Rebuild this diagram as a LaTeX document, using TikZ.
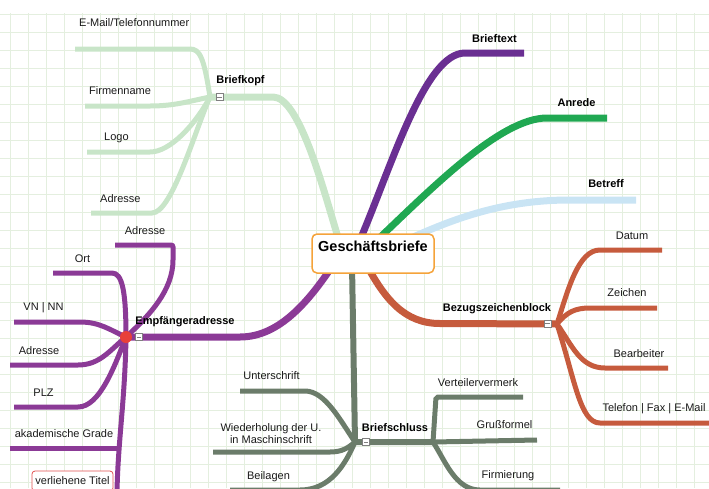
\documentclass[tikz,border=0pt]{standalone}
\usepackage{fontspec}
\setmainfont{Liberation Sans}
\usetikzlibrary{backgrounds}
\definecolor{gridc}{HTML}{E4EFDF}
\definecolor{kopfc}{HTML}{C8E5C8}
\definecolor{textc}{HTML}{6A2F92}
\definecolor{anredc}{HTML}{20A852}
\definecolor{betrc}{HTML}{C9E4F4}
\definecolor{bezc}{HTML}{C65B3D}
\definecolor{empfc}{HTML}{8B3A96}
\definecolor{schlc}{HTML}{6B7C6A}
\definecolor{rootc}{HTML}{F5A33A}
\definecolor{dotc}{HTML}{E8403A}
\definecolor{titelc}{HTML}{E25050}
\tikzset{
 lbl/.style={font=\fontsize{11}{12}\selectfont, inner sep=0pt, text=black!90},
 blbl/.style={font=\fontsize{11}{12}\selectfont\bfseries, inner sep=0pt},
 mainline/.style={line width=7pt},
 kidline/.style={line width=5pt},
 minusbox/.style={draw=black!50, fill=white, line width=0.5pt, minimum size=7pt, inner sep=0pt,
   path picture={\draw[line width=0.8pt] ([xshift=-2.2pt]path picture bounding box.center) -- ([xshift=2.2pt]path picture bounding box.center);}},
}
\begin{document}
\begin{tikzpicture}[x=1pt,y=1pt]
\useasboundingbox (0,0) rectangle (709,-488);

% ---------- root ----------
\node[draw=rootc, line width=1.5pt, fill=white, rounded corners=5pt, minimum width=122pt, minimum height=39pt, inner sep=0pt] (root) at (373,-253.5) {};
\node[font=\fontsize{14.5}{16}\selectfont\bfseries, inner sep=0pt] (roottxt) at (373,-246) {Geschäftsbriefe};

% ---------- hubs / coordinates ----------
\coordinate (kopfroot) at (340,-244);
\coordinate (kopfbend) at (273,-97);
\coordinate (kopfhub) at (210,-97);
\node[minusbox] (kopfminus) at (219.5,-97) {};
\coordinate (mailend) at (75,-49);
\coordinate (firmend) at (85,-106);
\coordinate (logoend) at (87,-152);
\coordinate (adrend) at (91,-213);

\coordinate (textroot) at (360,-240);
\coordinate (textend) at (524,-53);
\coordinate (anrroot) at (372,-245);
\coordinate (anrend) at (607,-118);
\coordinate (betrroot) at (400,-243);
\coordinate (betrend) at (636,-200);

\coordinate (bezroot) at (365,-262);
\coordinate (bezhub) at (557,-324);
\node[minusbox] (bezminus) at (547.5,-323.5) {};
\coordinate (datend) at (662,-250);
\coordinate (zeichend) at (657,-308);
\coordinate (bearbend) at (668,-368);
\coordinate (telend) at (712,-423);

\coordinate (empfroot) at (335,-262);
\coordinate (empfhub) at (126,-337);
\coordinate (adr2end) at (115,-245);
\coordinate (ortend) at (53,-273);
\coordinate (vnend) at (14,-322);
\coordinate (adr3end) at (10,-365);
\coordinate (plzend) at (14,-407);
\coordinate (akadend) at (10,-448);
\coordinate (akadjoin) at (120,-448);
\coordinate (vertend) at (117,-492);

\coordinate (schlroot) at (352,-265);
\coordinate (schlhub) at (355,-442);
\coordinate (schlhub2) at (433,-442);
\node[minusbox] (schlminus) at (366,-442) {};
\coordinate (untend) at (240,-391);
\coordinate (wiedend) at (213,-452);
\coordinate (beilend) at (230,-490);
\coordinate (vvend) at (523,-397);
\coordinate (grussend) at (537,-440);
\coordinate (firmiend) at (560,-490);

\node[circle, fill=dotc, minimum size=12pt, inner sep=0pt] (empfdot) at (empfhub) {};
\node[minusbox] (empfminus) at (139,-337) {};

% ---------- labels ----------
\node[blbl] (briefkopf) at (240.5,-81) {Briefkopf};
\node[lbl, anchor=west] (lmail) at (79,-23) {E-Mail/Telefonnummer};
\node[lbl, anchor=west] (lfirm) at (89,-91) {Firmenname};
\node[lbl, anchor=west] (llogo) at (104,-138) {Logo};
\node[lbl, anchor=west] (ladr) at (100,-199) {Adresse};

\node[blbl] (brieftext) at (494.5,-39) {Brieftext};
\node[blbl] (anrede) at (576.5,-103) {Anrede};
\node[blbl] (betreff) at (606,-184) {Betreff};

\node[blbl] (bezug) at (497,-309) {Bezugszeichenblock};
\node[lbl] (ldatum) at (632,-236) {Datum};
\node[lbl] (lzeichen) at (627,-293) {Zeichen};
\node[lbl] (lbearb) at (639,-354) {Bearbeiter};
\node[lbl] (ltel) at (654,-409) {Telefon | Fax | E-Mail};

\node[blbl] (empf) at (185,-322) {Empfängeradresse};
\node[lbl] (ladr2) at (145,-231) {Adresse};
\node[lbl] (lort) at (82.5,-259) {Ort};
\node[lbl] (lvn) at (43.5,-308) {VN | NN};
\node[lbl] (ladr3) at (39,-351) {Adresse};
\node[lbl] (lplz) at (43.5,-393) {PLZ};
\node[lbl] (lakad) at (64,-434) {akademische Grade};
\node[lbl, draw=titelc, line width=0.8pt, fill=white, rounded corners=3pt, minimum width=81pt, minimum height=20pt] (titel) at (72.5,-481) {verliehene Titel};

\node[blbl] (schluss) at (395,-428) {Briefschluss};
\node[lbl] (lunt) at (271.5,-376) {Unterschrift};
\node[lbl, align=center, font=\fontsize{11}{11.5}\selectfont] (lwied) at (271,-433.5) {Wiederholung der U.\\in Maschinschrift};
\node[lbl] (lbeil) at (268.5,-477) {Beilagen};
\node[lbl] (lvv) at (478,-383) {Verteilervermerk};
\node[lbl] (lgruss) at (504.5,-425) {Grußformel};
\node[lbl] (lfirmi) at (508,-476) {Firmierung};

% ---------- background: grid and branches ----------
\begin{scope}[on background layer]
  \foreach \x in {10,28,...,708} \draw[gridc, line width=0.7pt] (\x,-13) -- (\x,-488);
  \foreach \y in {14,32,...,488} \draw[gridc, line width=0.7pt] (0,-\y) -- (709,-\y);

  % Briefkopf
  \draw[mainline, kopfc] (kopfroot) .. controls (324,-192) and (300,-97) .. (kopfbend) -- (kopfhub);
  \draw[kidline, kopfc] (mailend) -- (190,-49) .. controls (200,-49) and (204,-58) .. (kopfhub);
  \draw[kidline, kopfc] (firmend) -- (150,-106) .. controls (175,-106) and (190,-101) .. (kopfhub);
  \draw[kidline, kopfc] (logoend) -- (150,-152) .. controls (170,-152) and (195,-125) .. (kopfhub);
  \draw[kidline, kopfc] (adrend) -- (152,-213) .. controls (172,-213) and (195,-130) .. (kopfhub);

  % Brieftext, Anrede, Betreff
  \draw[mainline, textc] (textroot) .. controls (392,-165) and (425,-53) .. (465,-53) -- (textend);
  \draw[mainline, anredc] (anrroot) .. controls (430,-190) and (500,-118) .. (547,-118) -- (anrend);
  \draw[mainline, betrc] (betrroot) .. controls (450,-220) and (500,-200) .. (570,-200) -- (betrend);

  % Bezugszeichenblock
  \draw[mainline, bezc] (bezroot) .. controls (385,-300) and (405,-323.5) .. (440,-323.5) -- (bezhub);
  \draw[kidline, bezc] (bezhub) .. controls (568,-290) and (578,-250) .. (600,-250) -- (datend);
  \draw[kidline, bezc] (bezhub) .. controls (567,-312) and (575,-308) .. (590,-308) -- (zeichend);
  \draw[kidline, bezc] (bezhub) .. controls (572,-345) and (580,-368) .. (605,-368) -- (bearbend);
  \draw[kidline, bezc] (bezhub) .. controls (575,-380) and (580,-423) .. (600,-423) -- (telend);

  % Empfaengeradresse
  \draw[mainline, empfc] (empfroot) .. controls (310,-300) and (280,-337) .. (240,-337) -- (empfhub);
  \draw[kidline, empfc, rounded corners=2pt] (adr2end) -- (173,-245) -- (173,-258) .. controls (173,-290) and (150,-315) .. (empfhub);
  \draw[kidline, empfc] (ortend) -- (112,-273) .. controls (122,-273) and (126,-290) .. (empfhub);
  \draw[kidline, empfc] (vnend) -- (80,-322) .. controls (100,-322) and (110,-330) .. (empfhub);
  \draw[kidline, empfc] (adr3end) -- (78,-365) .. controls (100,-365) and (110,-350) .. (empfhub);
  \draw[kidline, empfc] (plzend) -- (78,-407) .. controls (100,-407) and (115,-365) .. (empfhub);
  \draw[kidline, empfc] (empfhub) .. controls (125,-400) and (118,-440) .. (vertend);
  \draw[kidline, empfc] (akadend) -- (akadjoin);

  % Briefschluss
  \draw[mainline, schlc, line width=6pt] (schlroot) -- (schlhub) -- (schlhub2);
  \draw[kidline, schlc] (untend) -- (305,-391) .. controls (325,-391) and (340,-420) .. (schlhub);
  \draw[kidline, schlc] (wiedend) -- (330,-452) .. controls (342,-452) and (348,-448) .. (schlhub);
  \draw[kidline, schlc] (schlhub) .. controls (345,-465) and (330,-490) .. (300,-490) -- (beilend);
  \draw[kidline, schlc, rounded corners=2pt] (schlhub2) -- (436,-397) -- (vvend);
  \draw[kidline, schlc] (schlhub2) -- (grussend);
  \draw[kidline, schlc] (schlhub2) .. controls (445,-460) and (455,-490) .. (480,-490) -- (firmiend);
\end{scope}
\end{tikzpicture}
\end{document}
